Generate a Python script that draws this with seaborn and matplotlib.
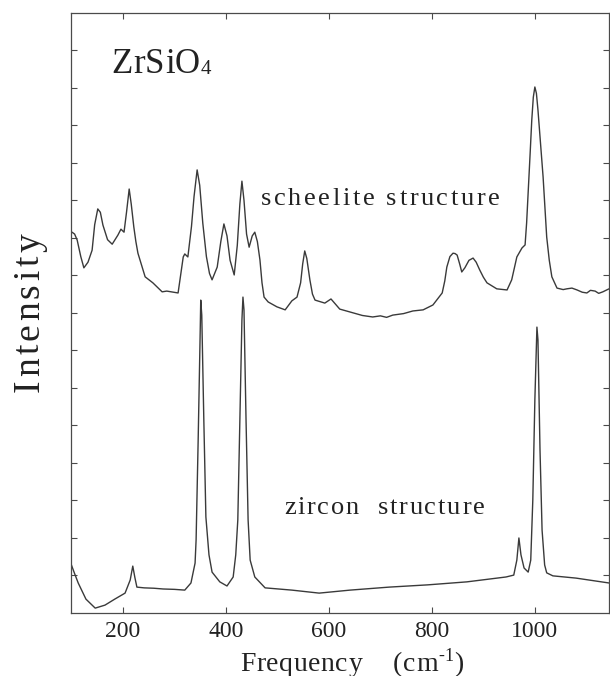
import matplotlib
matplotlib.use("Agg")
import matplotlib.pyplot as plt
import numpy as np
import pandas as pd
import seaborn as sns
from matplotlib import font_manager, ft2font
from matplotlib.font_manager import FontProperties
from matplotlib.transforms import offset_copy

# ---------------- data ----------------
scheelite_freq = [101, 106, 111, 118, 124, 132, 140, 145, 151, 156, 161, 170, 179, 190, 196, 202,
                  207, 212, 216, 221, 225, 229, 243, 258, 276, 285, 307, 317, 320, 326, 333, 338,
                  344, 349, 355, 362, 368, 373, 383, 390, 396, 402, 408, 416, 422, 427, 431, 435,
                  440, 445, 451, 456, 461, 466, 470, 474, 482, 499, 515, 528, 538, 545, 549, 553,
                  557, 563, 568, 573, 592, 604, 621, 647, 665, 685, 700, 712, 724, 745, 763, 783,
                  802, 820, 825, 829, 835, 841, 845, 849, 854, 858, 864, 872, 880, 886, 893, 900,
                  907, 926, 946, 955, 965, 975, 981, 984, 987, 991, 994, 997, 1000, 1003, 1006,
                  1011, 1016, 1020, 1023, 1028, 1033, 1043, 1055, 1062, 1072, 1082, 1092, 1101,
                  1108, 1117, 1124, 1132, 1138, 1144]
scheelite_int = [10.15, 10.10, 9.94, 9.50, 9.20, 9.35, 9.67, 10.35, 10.77, 10.68, 10.34, 9.95, 9.83,
                 10.07, 10.23, 10.15, 10.70, 11.30, 10.90, 10.29, 9.90, 9.59, 8.96, 8.80, 8.56, 8.58,
                 8.53, 9.49, 9.57, 9.49, 10.30, 11.10, 11.81, 11.40, 10.39, 9.50, 9.05, 8.88, 9.22,
                 9.90, 10.37, 10.05, 9.40, 9.01, 9.80, 10.90, 11.51, 11.00, 10.10, 9.75, 10.05,
                 10.15, 9.90, 9.41, 8.80, 8.42, 8.29, 8.16, 8.08, 8.32, 8.42, 8.80, 9.30, 9.65,
                 9.45, 8.88, 8.50, 8.34, 8.26, 8.37, 8.10, 8.00, 7.93, 7.89, 7.92, 7.88, 7.94, 7.98,
                 8.05, 8.08, 8.21, 8.53, 8.85, 9.22, 9.50, 9.59, 9.58, 9.54, 9.30, 9.09, 9.20, 9.40,
                 9.46, 9.35, 9.14, 8.95, 8.80, 8.64, 8.61, 8.88, 9.49, 9.73, 9.81, 10.40, 11.19,
                 12.30, 13.14, 13.75, 14.02, 13.85, 13.41, 12.50, 11.62, 10.70, 10.02, 9.40, 8.96,
                 8.66, 8.62, 8.64, 8.66, 8.61, 8.55, 8.53, 8.60, 8.58, 8.52, 8.56, 8.60, 8.64]

zircon_freq = [99, 106, 113, 128, 146, 165, 184, 204, 214, 219, 223, 227, 241, 260, 278, 300, 320,
               332, 340, 342, 346, 350, 351, 353, 357, 361, 367, 373, 388, 402, 414, 419, 423, 427,
               431, 433, 435, 439, 443, 447, 456, 476, 528, 581, 641, 717, 792, 868, 944, 959,
               965, 969, 973, 979, 987, 992, 996, 1000, 1004, 1006, 1010, 1014, 1019, 1023, 1035,
               1080, 1144]
zircon_int = [1.31, 1.05, 0.80, 0.37, 0.13, 0.21, 0.37, 0.53, 0.88, 1.25, 0.95, 0.69, 0.67, 0.66,
              0.64, 0.63, 0.61, 0.80, 1.33, 1.95, 4.61, 7.54, 8.34, 7.94, 5.14, 2.56, 1.55, 1.09,
              0.83, 0.72, 0.96, 1.55, 2.48, 5.14, 7.81, 8.42, 8.08, 5.14, 2.48, 1.41, 0.96, 0.67,
              0.61, 0.53, 0.61, 0.69, 0.75, 0.83, 0.96, 1.01, 1.41, 2.00, 1.55, 1.20, 1.09, 1.41,
              3.01, 5.68, 7.62, 7.28, 4.34, 2.21, 1.28, 1.07, 0.99, 0.93, 0.80]

x_ticks = [200, 400, 600, 800, 1000]
x_tick_labels = ["200", "400", "600", "800", "1000"]
y_ticks = list(range(1, 16))

title_text = "ZrSiO"
title_sub = "4"
upper_label = "scheelite structure"
lower_label = "zircon  structure"
y_label = "Intensity"
x_label_main = "Frequency    (cm"
x_label_sup = "-1"
x_label_end = ")"

# ---------------- style ----------------
sns.set_style("ticks")
plt.rcParams["font.family"] = ["Liberation Serif", "DejaVu Serif"]
LINE = "#3a3a3a"
TXT = "#222222"
SPINE = "#4a4a4a"

W, H = 610, 676
fig = plt.figure(figsize=(W / 100, H / 100), dpi=100)
ax = fig.add_axes([71 / W, 63 / H, 538 / W, 600.3 / H])

df_s = pd.DataFrame({"freq": scheelite_freq, "inten": scheelite_int})
df_z = pd.DataFrame({"freq": zircon_freq, "inten": zircon_int})
sns.lineplot(data=df_s, x="freq", y="inten", ax=ax, color=LINE, lw=1.0, sort=False, estimator=None)
sns.lineplot(data=df_z, x="freq", y="inten", ax=ax, color=LINE, lw=1.0, sort=False, estimator=None)

ax.set_xlim(99, 1144)
ax.set_ylim(0, 16)
ax.set_xlabel("")
ax.set_ylabel("")
ax.set_xticks(x_ticks)
ax.set_xticklabels(x_tick_labels, fontsize=17, family="Liberation Serif", color=TXT)
ax.set_yticks(y_ticks)
ax.set_yticklabels([])
ax.tick_params(axis="both", direction="in", length=4, width=0.8, color=SPINE,
               top=True, right=True, pad=6)
for s in ax.spines.values():
    s.set_visible(True)
    s.set_color(SPINE)
    s.set_linewidth(0.9)

# ---------------- letter-spaced text helper ----------------
SERIF_PATH = font_manager.findfont(FontProperties(family="Liberation Serif"))


def advance(ch, size):
    f = ft2font.FT2Font(SERIF_PATH)
    f.set_size(size, 72)
    g = f.load_char(ord(ch))
    return g.linearHoriAdvance / 65536


def tracked(x_px, y_px, segments, track, rotation=0):
    X, Y = x_px / W, 1 - y_px / H
    pos = 0.0
    for text, size, rise in segments:
        for ch in text:
            if ch != " ":
                if rotation == 0:
                    dx, dy = pos, rise
                else:
                    dx, dy = -rise, pos
                tr = offset_copy(fig.transFigure, fig=fig, x=dx, y=dy, units="points")
                fig.text(X, Y, ch, transform=tr, fontsize=size, family="Liberation Serif",
                         ha="left", va="baseline", rotation=rotation,
                         rotation_mode="anchor", color=TXT)
            pos += advance(ch, size) + track


tracked(111, 73, [(title_text, 25, 0), (title_sub, 15, -1)], 0.4)
tracked(261, 205, [(upper_label, 19, 0)], 1.9)
tracked(284, 514, [(lower_label, 19, 0)], 1.3)
tracked(39, 392, [(y_label, 27, 0)], 2.5, rotation=90)
tracked(240, 671, [(x_label_main, 20, 0), (x_label_sup, 13, 7), (x_label_end, 20, 0)], 0.45)

fig.savefig("out.png", dpi=100, facecolor="white")
